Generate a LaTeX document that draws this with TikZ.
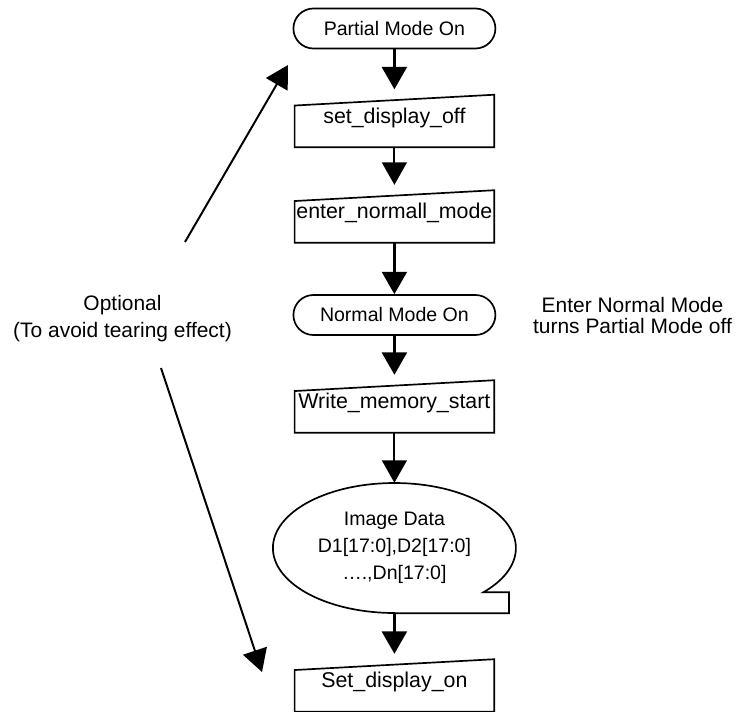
\documentclass[tikz,border=0pt]{standalone}
\usepackage{fontspec}
\setmainfont{Liberation Sans}
\usetikzlibrary{shapes.geometric, shapes.misc, arrows.meta, positioning, calc}

\begin{document}
\begin{tikzpicture}[
    term/.style={rounded rectangle, draw=black, line width=1.2pt,
        minimum width=5.05cm, minimum height=1cm, inner sep=0pt,
        font=\fontsize{13.9}{16}\selectfont},
    inbox/.style={rectangle, draw=none, minimum width=4.975cm, inner sep=0pt,
        text height=0.71cm, text depth=0.59cm, font=\fontsize{15.2}{17}\selectfont},
    outline/.style={draw=black, line width=1.2pt},
    dataout/.style={ellipse, draw=none, minimum width=6.075cm, minimum height=3.25cm,
        align=center, inner sep=0pt, font=\fontsize{13.9}{19.2}\selectfont},
    arr/.style={-{Triangle[length=0.56cm, width=0.62cm]}, line width=2.1pt, black},
    thinarr/.style={arr, line width=1.4pt},
    note/.style={align=center, font=\fontsize{14.9}{19.2}\selectfont}
]
    \clip (0,0) rectangle (18.475,-17.775);

    % === main column ===
    \node[term]    (pmon) at (9.86, -0.7125) {Partial Mode On};
    \node[inbox]   (sdo)  at (9.86, -3.025)  {set\_display\_off};
    \node[inbox]   (enm)  at (9.86, -5.4125) {enter\_normall\_mode};
    \node[term]    (nmon) at (9.86, -7.875)  {Normal Mode On};
    \node[inbox]   (wms)  at (9.86, -10.1625) {Write\_memory\_start};
    \node[dataout] (img)  at (9.86, -13.7)   {Image Data\\D1[17:0],D2[17:0]\\….,Dn[17:0]};
    \node[inbox]   (sdon) at (9.86, -17.1375) {Set\_display\_on};

    % === side notes ===
    \node[note] (opt) at (3.0625, -7.96) {Optional\\(To avoid tearing effect)};
    \node[note, font=\fontsize{14.9}{14.9}\selectfont] (enote) at (15.8125, -7.8875)
        {Enter Normal Mode\\turns Partial Mode off};
    \coordinate (upfrom) at (4.625, -6.05);
    \coordinate (upto)   at (7.2, -1.625);
    \coordinate (dnfrom) at (4.025, -9.2);
    \coordinate (dnto)   at (6.55, -16.8);

    % --- manual input outlines ---
    \foreach \n in {sdo, enm, wms, sdon}
        \draw[outline] ($(\n.north west)+(0,-0.27)$) -- (\n.north east)
            -- (\n.south east) -- (\n.south west) -- cycle;

    % --- image data bubble ---
    \draw[outline] (img.south) -- ++(2.8625,0)
        |- ($(img.center)+(-43:3.0375cm and 1.625cm)$)
        arc[start angle=-43, end angle=270, x radius=3.0375cm, y radius=1.625cm] -- cycle;

    % --- flow arrows ---
    \draw[arr, shorten >=0.135cm] (pmon.south) -- (sdo.north);
    \draw[thinarr, shorten >=0.135cm] (sdo.south) -- (enm.north);
    \draw[arr] (enm.south) -- (nmon.north);
    \draw[arr, shorten >=0.135cm] (nmon.south) -- (wms.north);
    \draw[thinarr] (wms.south) -- (img.north);
    \draw[arr, shorten >=0.135cm] (img.south) -- (sdon.north);

    % --- optional arrows ---
    \draw[thinarr] (upfrom) -- (upto);
    \draw[thinarr] (dnfrom) -- (dnto);
\end{tikzpicture}
\end{document}
